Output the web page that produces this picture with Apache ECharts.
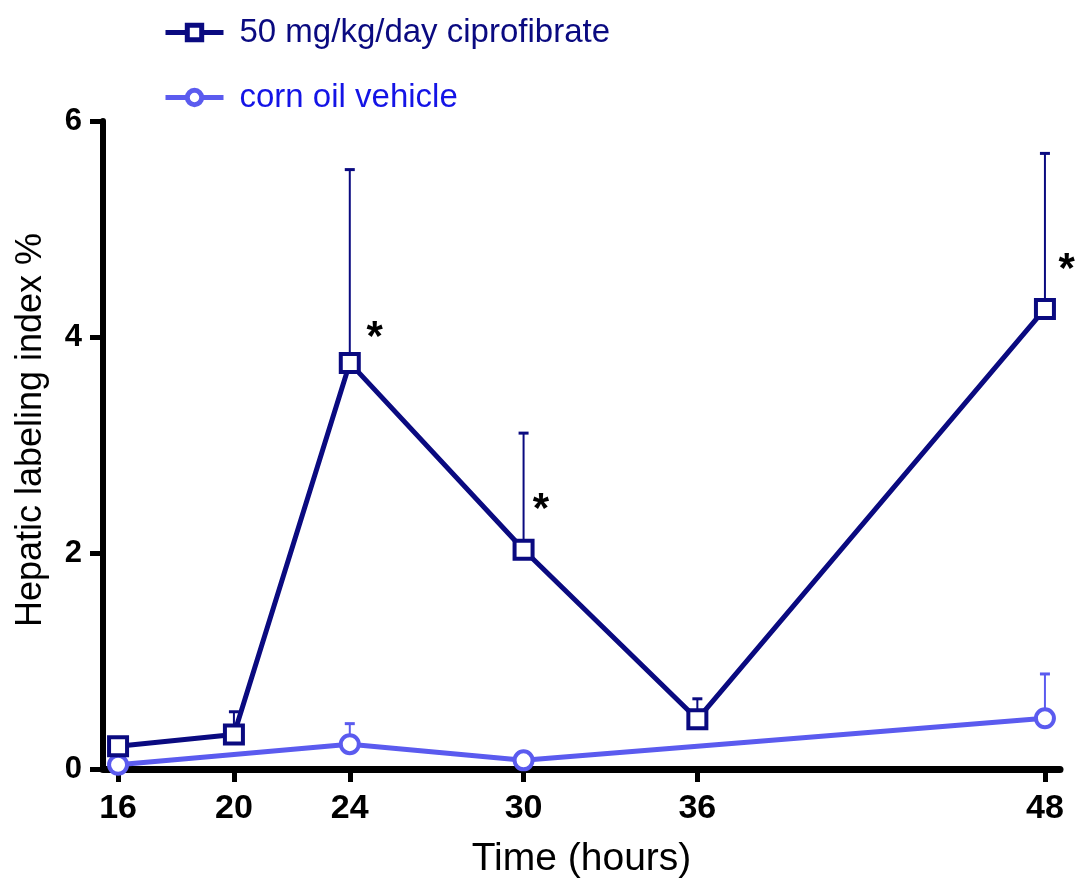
<!DOCTYPE html>
<html><head><meta charset="utf-8">
<script src="https://cdn.jsdelivr.net/npm/echarts@6/dist/echarts.min.js"></script>
<style>html,body{margin:0;padding:0;background:#fff}#c{width:1077px;height:886px}</style>
</head><body><div id="c"></div>
<script>
const hours = [16, 20, 24, 30, 36, 48];
const ciproMean = [0.21, 0.32, 3.76, 2.03, 0.46, 4.26];
const ciproUpper = [null, 0.53, 5.55, 3.11, 0.65, 5.70];
const oilHours = [16, 24, 30, 48];
const oilMean = [0.04, 0.23, 0.08, 0.47];
const oilUpper = [null, 0.42, 0.12, 0.88];
const starPoints = [[24.86, 4.06], [30.6, 2.47], [48.75, 4.69]];
const tickHours = [16, 20, 24, 30, 36, 48];
const ciproName = '50 mg/kg/day ciprofibrate';
const oilName = 'corn oil vehicle';

const NAVY = '#0a0a80';
const BLUE = '#5b5bef';
const FONT = 'Liberation Sans, Arial, Helvetica';

function errData(xs, means, ups) {
  const out = [];
  xs.forEach((x, i) => { if (ups[i] != null) out.push([x, means[i], ups[i]]); });
  return out;
}
function errRender(color, w) {
  return function (params, api) {
    const a = api.coord([api.value(0), api.value(1)]);
    const b = api.coord([api.value(0), api.value(2)]);
    return { type: 'group', children: [
      { type: 'line', shape: { x1: a[0], y1: a[1], x2: b[0], y2: b[1] }, style: { stroke: color, lineWidth: w } },
      { type: 'line', shape: { x1: b[0] - 5, y1: b[1], x2: b[0] + 5, y2: b[1] }, style: { stroke: color, lineWidth: 3 } }
    ]};
  };
}

const chart = echarts.init(document.getElementById('c'));
chart.setOption({
  animation: false,
  grid: { left: 103, right: 17, top: 121, bottom: 117, containLabel: false },
  legend: {
    orient: 'vertical', left: 158, top: 11, itemWidth: 58, itemHeight: 18, itemGap: 32,
    lineStyle: { width: 5 },
    textStyle: { fontFamily: FONT, fontSize: 33, padding: [0, 0, 0, 11] },
    data: [
      { name: ciproName, textStyle: { color: NAVY }, itemStyle: { color: '#fff', borderColor: NAVY, borderWidth: 5 } },
      { name: oilName, textStyle: { color: '#1414e6' }, itemStyle: { color: '#fff', borderColor: BLUE, borderWidth: 5 } }
    ]
  },
  xAxis: {
    type: 'value', min: 15.48, max: 48.52, offset: 3,
    name: 'Time (hours)', nameLocation: 'middle', nameGap: 68,
    nameTextStyle: { fontFamily: FONT, fontSize: 39, color: '#000' },
    axisLine: { lineStyle: { color: '#000', width: 7 } },
    axisTick: { length: 13, lineStyle: { color: '#000', width: 5 }, customValues: tickHours },
    axisLabel: { customValues: tickHours, fontFamily: FONT, fontWeight: 'bold', fontSize: 34, color: '#000', margin: 20 },
    splitLine: { show: false }
  },
  yAxis: {
    type: 'value', min: 0, max: 6, interval: 2,
    name: 'Hepatic labeling index %', nameLocation: 'middle', nameGap: 54,
    nameTextStyle: { fontFamily: FONT, fontSize: 36, color: '#000', padding: [0, 0, 0, 30] },
    axisLine: { show: true, lineStyle: { color: '#000', width: 6 } },
    axisTick: { show: true, length: 13, lineStyle: { color: '#000', width: 5 } },
    axisLabel: { fontFamily: FONT, fontWeight: 'bold', fontSize: 31, color: '#000', margin: 21 },
    splitLine: { show: false }
  },
  series: [
    { type: 'custom', name: 'ciproErr', renderItem: errRender(NAVY, 2), data: errData(hours, ciproMean, ciproUpper), z: 1, silent: true },
    { type: 'custom', name: 'oilErr', renderItem: errRender(BLUE, 2), data: errData(oilHours, oilMean, oilUpper), z: 1, silent: true },
    { type: 'line', name: ciproName, data: hours.map((h, i) => [h, ciproMean[i]]), z: 3,
      symbol: 'rect', symbolSize: 18, showAllSymbol: true,
      lineStyle: { color: NAVY, width: 5 }, itemStyle: { color: '#fff', borderColor: NAVY, borderWidth: 4 }, color: NAVY },
    { type: 'line', name: oilName, data: oilHours.map((h, i) => [h, oilMean[i]]), z: 2,
      symbol: 'circle', symbolSize: 18,
      lineStyle: { color: BLUE, width: 5 }, itemStyle: { color: '#fff', borderColor: BLUE, borderWidth: 4 }, color: BLUE },
    { type: 'scatter', name: 'stars', data: starPoints, symbolSize: 0, clip: false, silent: true,
      itemStyle: { opacity: 1, color: '#000' },
      label: { show: true, position: 'inside', formatter: '*', fontFamily: FONT, fontWeight: 'bold', fontSize: 42, color: '#000', opacity: 1, textBorderWidth: 0, offset: [0, 8] } }
  ]
});
</script>
</body></html>
